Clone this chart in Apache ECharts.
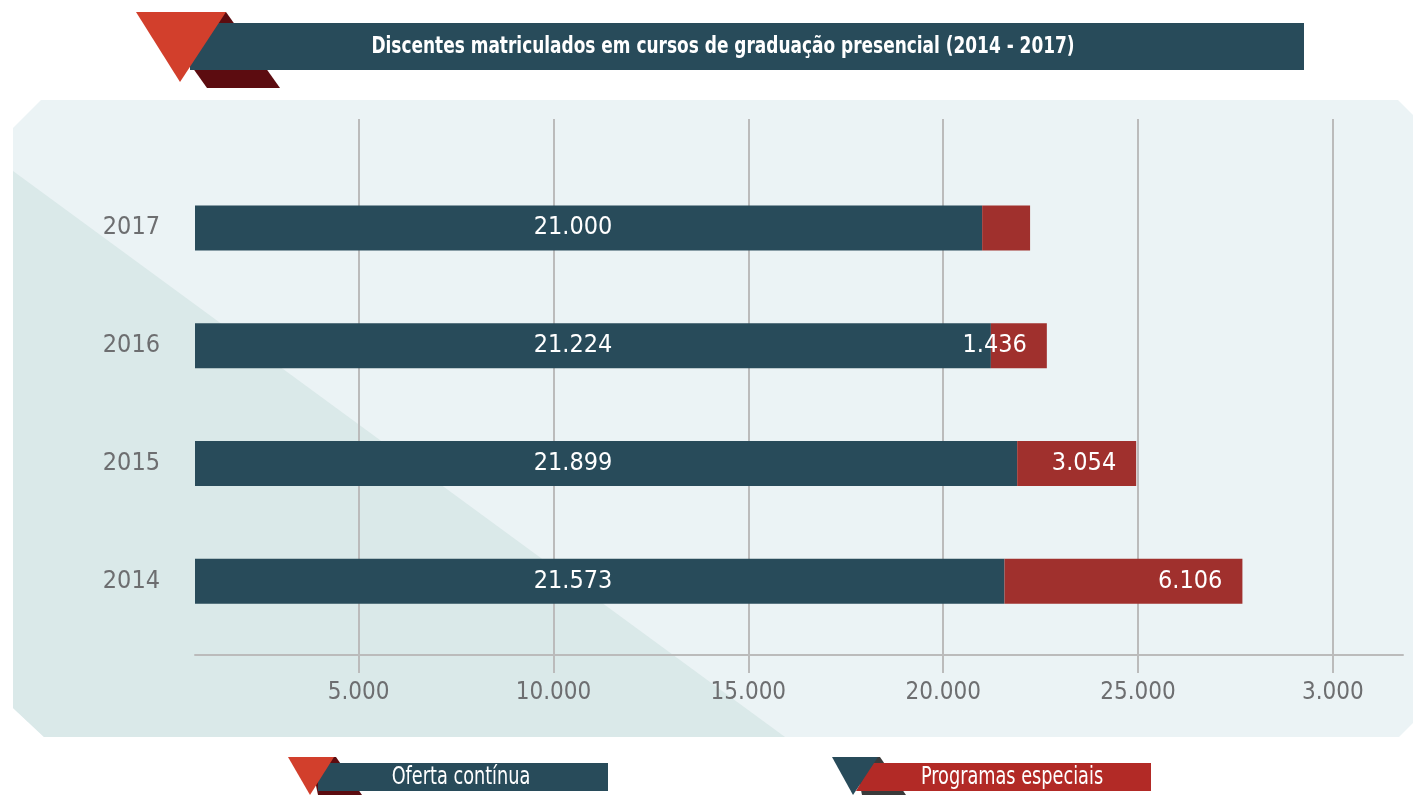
<!DOCTYPE html>
<html>
<head>
<meta charset="utf-8">
<script src="https://cdn.jsdelivr.net/npm/echarts@6/dist/echarts.min.js"></script>
<style>
	html, body { margin: 0; padding: 0; background: #fff; }
	#chart { width: 1413px; height: 795px; }
</style>
</head>
<body>
<div id="chart"></div>
<script>
var anos = ['2014', '2015', '2016', '2017'];
var ofertaContinua = [21573, 21899, 21224, 21000];
var programasEspeciais = [6106, 3054, 1436, 1230];
var mostrarRotuloEspeciais = [true, true, true, false];
var tickValores = [5000, 10000, 15000, 20000, 25000, 30000];
var tickRotulos = ['5.000', '10.000', '15.000', '20.000', '25.000', '3.000'];

var fonte = "'Liberation Sans Narrow', 'DejaVu Sans Condensed', sans-serif";
var azul = '#284b5a';
var vermelho = '#a0302d';
var cinza = '#bbbbbb';

function formatarNumero(v) {
	return String(v).replace(/\B(?=(\d{3})+(?!\d))/g, '.');
}

// texto "estreito" para titulo e legenda
function textoEstreito(x, y, texto, fonteCss) {
	return {
		type: 'text', z: 13, silent: true,
		x: x, y: y, scaleX: 0.82,
		style: {
			x: 0, y: 0, text: texto, fill: '#ffffff',
			font: fonteCss, textAlign: 'center', textVerticalAlign: 'middle'
		}
	};
}

var myChart = echarts.init(document.getElementById('chart'));

var dadosEspeciais = programasEspeciais.map(function (v, i) {
	return { value: v, label: { show: mostrarRotuloEspeciais[i] } };
});

var option = {
	backgroundColor: '#ffffff',
	animation: false,
	textStyle: { fontFamily: fonte },
	graphic: [
		// painel de fundo
		{
			type: 'polygon', z: -20, silent: true,
			shape: { points: [[41, 100], [1398, 100], [1420, 122], [1420, 716], [1399, 737], [44, 737], [13, 708], [13, 128]] },
			style: { fill: '#ebf3f5' }
		},
		{
			type: 'polygon', z: -19, silent: true,
			shape: { points: [[13, 171], [785, 737], [44, 737], [13, 708]] },
			style: { fill: '#dae9e9' }
		},
		// titulo
		{
			type: 'polygon', z: 10, silent: true,
			shape: { points: [[153, 12], [226, 12], [280, 88], [207, 88]] },
			style: { fill: '#5c0c10' }
		},
		{
			type: 'rect', z: 11, silent: true,
			shape: { x: 190, y: 23, width: 1114, height: 47 },
			style: { fill: azul }
		},
		{
			type: 'polygon', z: 12, silent: true,
			shape: { points: [[136, 12], [226, 12], [180, 82]] },
			style: { fill: '#d23f2c' }
		},
		textoEstreito(723, 47, 'Discentes matriculados em cursos de graduação presencial (2014 - 2017)', 'bold 23px ' + fonte),
		// legenda: Oferta contínua
		{
			type: 'polygon', z: 10, silent: true,
			shape: { points: [[310, 757], [336, 757], [362, 795], [318, 795]] },
			style: { fill: '#5c0c10' }
		},
		{
			type: 'rect', z: 11, silent: true,
			shape: { x: 318, y: 763, width: 290, height: 28 },
			style: { fill: azul }
		},
		{
			type: 'polygon', z: 12, silent: true,
			shape: { points: [[288, 757], [334, 757], [310, 795]] },
			style: { fill: '#d23f2c' }
		},
		textoEstreito(461, 778, 'Oferta contínua', '24px ' + fonte),
		// legenda: Programas especiais
		{
			type: 'polygon', z: 10, silent: true,
			shape: { points: [[854, 757], [880, 757], [906, 795], [862, 795]] },
			style: { fill: '#3a3a3a' }
		},
		{
			type: 'polygon', z: 11, silent: true,
			shape: { points: [[872, 763], [1151, 763], [1151, 791], [856, 791]] },
			style: { fill: '#b22a26' }
		},
		{
			type: 'polygon', z: 12, silent: true,
			shape: { points: [[832, 757], [878, 757], [853, 795]] },
			style: { fill: azul }
		},
		textoEstreito(1012, 778, 'Programas especiais', '24px ' + fonte)
	],
	grid: [
		// grade de fundo: linhas verticais de 119 a 673, eixo em 655 (valor 0 do eixo y auxiliar)
		{ left: 195, right: 10, top: 119, height: 554, outerBoundsMode: 'none' },
		// barras
		{ left: 195, right: 10, top: 169, height: 471, outerBoundsMode: 'none' }
	],
	xAxis: [
		{
			type: 'value', gridIndex: 0, min: 800, max: 31800,
			axisLine: { show: true, onZero: true, lineStyle: { color: cinza, width: 2 } },
			axisTick: { show: false, customValues: tickValores },
			splitLine: { show: true, lineStyle: { color: cinza, width: 2 } },
			axisLabel: {
				customValues: tickValores, margin: 8, color: '#6d6e70', fontSize: 24, fontFamily: fonte,
				formatter: function (v) {
					var i = tickValores.indexOf(v);
					return i >= 0 ? tickRotulos[i] : '';
				}
			}
		},
		{
			type: 'value', gridIndex: 1, min: 800, max: 31800, show: false,
			splitLine: { show: false }
		}
	],
	yAxis: [
		{ type: 'value', gridIndex: 0, min: -18, max: 536, show: false, splitLine: { show: false } },
		{
			type: 'category', gridIndex: 1, data: anos,
			axisLine: { show: false }, axisTick: { show: false },
			axisLabel: { margin: 35, color: '#6d6e70', fontSize: 25, fontFamily: fonte }
		}
	],
	series: [
		{
			name: 'Oferta contínua', type: 'bar', stack: 'total',
			xAxisIndex: 1, yAxisIndex: 1, barWidth: 45,
			itemStyle: { color: azul },
			label: {
				show: true, position: [378, '50%'], align: 'center', verticalAlign: 'middle',
				color: '#ffffff', fontSize: 25, fontFamily: fonte,
				formatter: function (p) { return formatarNumero(p.value); }
			},
			data: ofertaContinua
		},
		{
			name: 'Programas especiais', type: 'bar', stack: 'total',
			xAxisIndex: 1, yAxisIndex: 1, barWidth: 45,
			itemStyle: { color: vermelho },
			label: {
				show: true, position: 'insideRight', distance: 20,
				color: '#ffffff', fontSize: 25, fontFamily: fonte,
				formatter: function (p) { return formatarNumero(p.value); }
			},
			data: dadosEspeciais
		}
	]
};

myChart.setOption(option);
</script>
</body>
</html>
